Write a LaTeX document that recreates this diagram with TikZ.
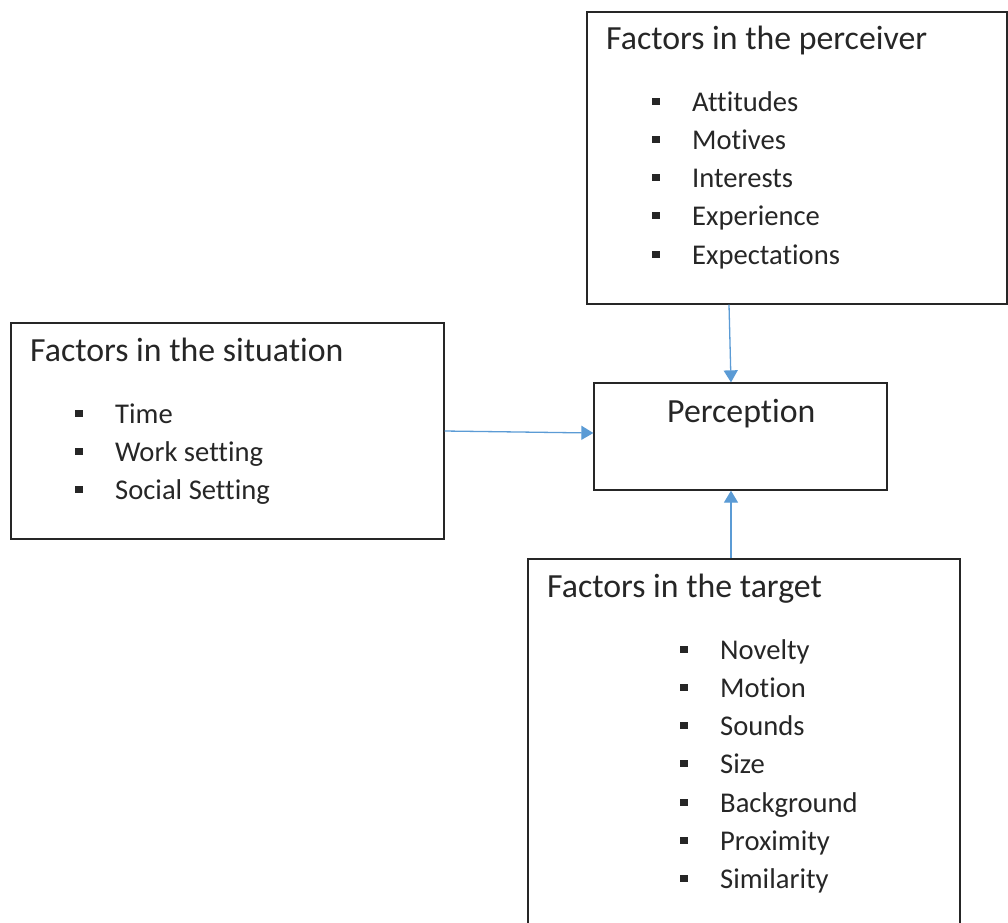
\documentclass[tikz,border=0pt]{standalone}
\usepackage{fontspec}
\setmainfont{Carlito}[Ligatures={NoCommon}]
\usetikzlibrary{arrows.meta}
\definecolor{boxline}{HTML}{262626}
\definecolor{arrowblue}{HTML}{5B9BD5}
\newcommand{\sqbullet}{\llap{\rule[6.5pt]{8pt}{7pt}\hspace{32pt}}}

\begin{document}
\begin{tikzpicture}[x=1pt,y=-1pt,
                    every node/.style={text=boxline},
                    factorbox/.style={draw=boxline,line width=1.3pt,rectangle,inner sep=0pt},
                    boxtitle/.style={anchor=base west,inner sep=0pt,font=\fontsize{33.8}{40}\selectfont},
                    listitem/.style={anchor=base west,inner sep=0pt,font=\fontsize{28.6}{34}\selectfont},
                    link/.style={draw=arrowblue,line width=1.3pt,-{Triangle[length=12pt,width=14pt]}}]
\useasboundingbox (0,0) rectangle (1008,922);
% boxes
\node[factorbox,minimum width=420pt,minimum height=292pt] (perceiver) at (797,158) {};
\node[factorbox,minimum width=433pt,minimum height=216pt] (situation) at (227.5,431) {};
\node[factorbox,minimum width=293pt,minimum height=107pt] (perception) at (740.5,436.5) {};
\node[factorbox,minimum width=432pt,minimum height=400pt] (target) at (744,759) {};
% titles
\node[boxtitle] (perceivertitle) at (606,49) {Factors in the perceiver};
\node[boxtitle] (situationtitle) at (30,361) {Factors in the situation};
\node[boxtitle] (perceptiontitle) at (667,422) {Perception};
\node[boxtitle] (targettitle) at (547,597) {Factors in the target};
% lists
\foreach \t [count=\i] in {Attitudes,Motives,Interests,Experience,Expectations}
    \node[listitem] (perceiver\i) at (692,{111+38.3*(\i-1)}) {\sqbullet\t};
\foreach \t [count=\i] in {Time,Work setting,Social Setting}
    \node[listitem] (situation\i) at (115,{423+38.3*(\i-1)}) {\sqbullet\t};
\foreach \t [count=\i] in {Novelty,Motion,Sounds,Size,Background,Proximity,Similarity}
    \node[listitem] (target\i) at (720,{659+38.3*(\i-1)}) {\sqbullet\t};
% connectors
\draw[link] ([xshift=-68pt]perceiver.south) -- ([xshift=-9.5pt]perception.north);
\draw[link] (situation.east) -- ([yshift=3.5pt]perception.west);
\draw[link] ([xshift=-13pt]target.north) -- ([xshift=-9.5pt]perception.south);
\end{tikzpicture}
\end{document}
